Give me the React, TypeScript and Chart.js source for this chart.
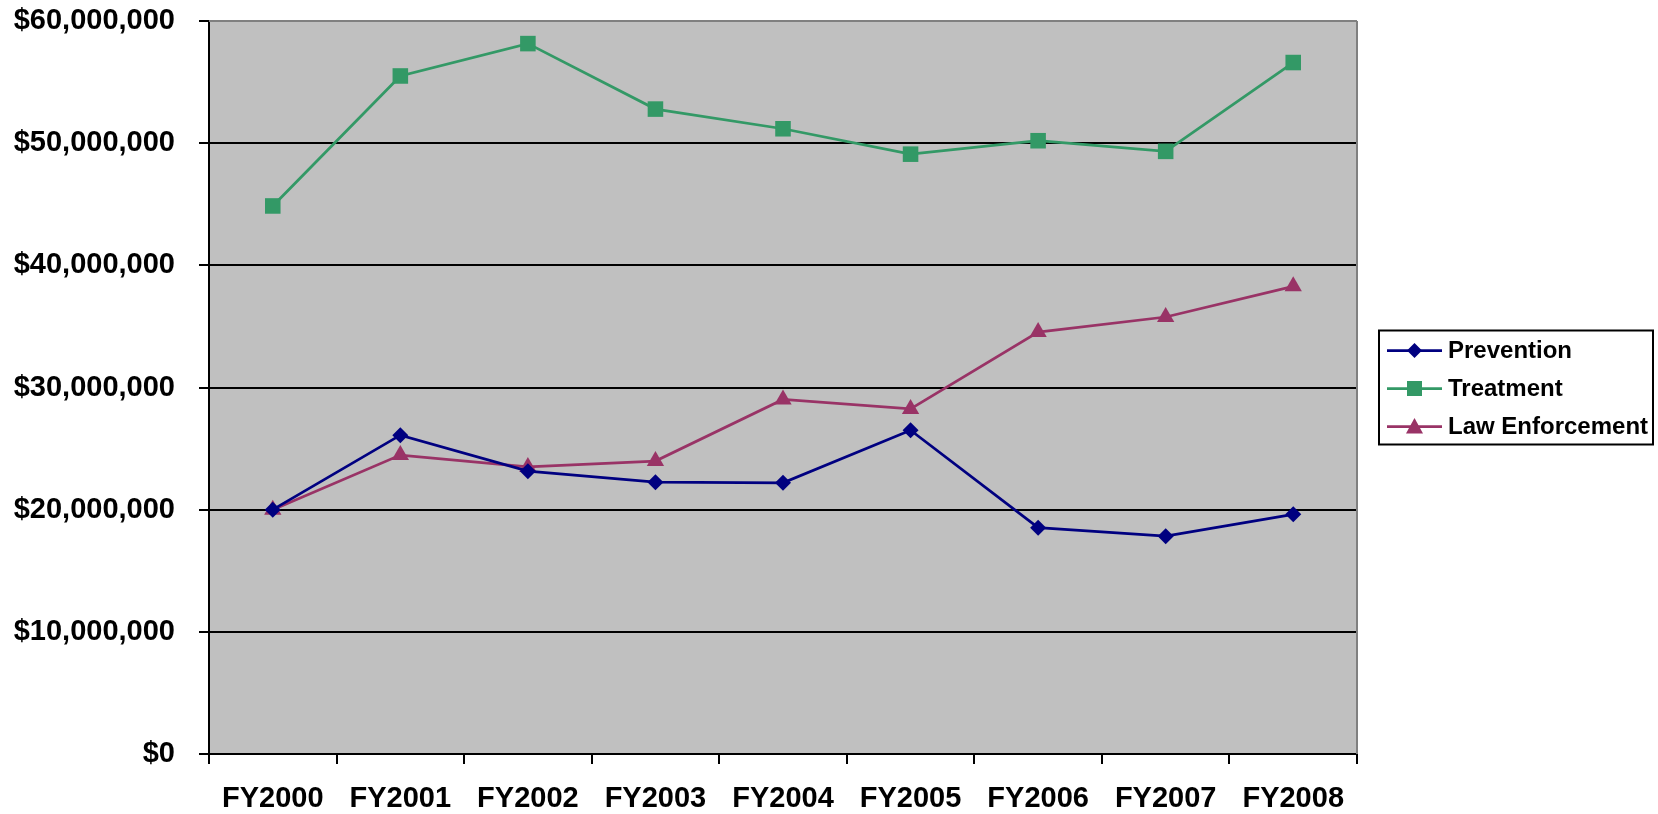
import React, { useEffect, useRef } from "react";
import { Chart, registerables } from "chart.js";

Chart.register(...registerables);

const categories = ["FY2000", "FY2001", "FY2002", "FY2003", "FY2004", "FY2005", "FY2006", "FY2007", "FY2008"];
const prevention = [20000000, 26100000, 23150000, 22250000, 22200000, 26500000, 18530000, 17830000, 19620000];
const treatment = [44860000, 55500000, 58150000, 52790000, 51180000, 49100000, 50200000, 49330000, 56600000];
const lawEnforcement = [20000000, 24470000, 23500000, 23980000, 29020000, 28250000, 34540000, 35770000, 38280000];
const seriesNames = ["Prevention", "Treatment", "Law Enforcement"];
const yTicksMax = 60000000;
const yStep = 10000000;

const FONT = '"Liberation Sans", Arial, Helvetica, sans-serif';

function drawMarker(ctx: CanvasRenderingContext2D, style: string, x: number, y: number, color: string) {
  ctx.fillStyle = color;
  ctx.beginPath();
  if (style === "rectRot") {
    const r = 7.5;
    ctx.moveTo(x, y - r);
    ctx.lineTo(x + r, y);
    ctx.lineTo(x, y + r);
    ctx.lineTo(x - r, y);
    ctx.closePath();
  } else if (style === "rect") {
    const s = 7.5;
    ctx.rect(x - s, y - s, 2 * s, 2 * s);
  } else {
    ctx.moveTo(x, y - 8.5);
    ctx.lineTo(x + 8.5, y + 7);
    ctx.lineTo(x - 8.5, y + 7);
    ctx.closePath();
  }
  ctx.fill();
}

const plotBgPlugin = {
  id: "plotBg",
  beforeDraw(chart: any) {
    const { ctx, chartArea } = chart;
    ctx.save();
    ctx.fillStyle = "#C0C0C0";
    ctx.fillRect(chartArea.left, chartArea.top, chartArea.right - chartArea.left, chartArea.bottom - chartArea.top);
    ctx.restore();
  },
  beforeDatasetsDraw(chart: any) {
    const { ctx, chartArea } = chart;
    ctx.save();
    ctx.strokeStyle = "#808080";
    ctx.lineWidth = 2;
    ctx.beginPath();
    ctx.moveTo(chartArea.left, chartArea.top);
    ctx.lineTo(chartArea.right, chartArea.top);
    ctx.moveTo(chartArea.right, chartArea.top);
    ctx.lineTo(chartArea.right, chartArea.bottom);
    ctx.stroke();
    ctx.restore();
  },
};

const boxLegendPlugin = {
  id: "boxLegend",
  afterDraw(chart: any) {
    const { ctx, chartArea } = chart;
    const left = chartArea.right + 22;
    const cy = (chartArea.top + chartArea.bottom) / 2;
    const w = 274;
    const h = 114;
    ctx.save();
    ctx.fillStyle = "#FFFFFF";
    ctx.fillRect(left, cy - h / 2, w, h);
    ctx.strokeStyle = "#000000";
    ctx.lineWidth = 2;
    ctx.strokeRect(left, cy - h / 2, w, h);
    chart.data.datasets.forEach((ds: any, i: number) => {
      const y = cy - 37 + i * 38;
      ctx.strokeStyle = ds.borderColor;
      ctx.lineWidth = 2.75;
      ctx.beginPath();
      ctx.moveTo(left + 8, y);
      ctx.lineTo(left + 63, y);
      ctx.stroke();
      drawMarker(ctx, ds.pointStyle, left + 35.5, y, ds.borderColor);
      ctx.fillStyle = "#000000";
      ctx.font = `bold 24px ${FONT}`;
      ctx.textAlign = "left";
      ctx.textBaseline = "middle";
      ctx.fillText(ds.label, left + 69, y + 1);
    });
    ctx.restore();
  },
};

export default function App() {
  const canvasRef = useRef<HTMLCanvasElement | null>(null);

  useEffect(() => {
    document.body.style.margin = "0";
    const canvas = canvasRef.current;
    if (!canvas) return;
    const chart = new Chart(canvas, {
      type: "line",
      data: {
        labels: categories,
        datasets: [
          {
            label: seriesNames[0],
            data: prevention,
            borderColor: "#000080",
            backgroundColor: "#000080",
            pointStyle: "rectRot",
            pointRadius: 8,
            pointBorderWidth: 0,
            borderWidth: 2.75,
            tension: 0,
          },
          {
            label: seriesNames[1],
            data: treatment,
            borderColor: "#339966",
            backgroundColor: "#339966",
            pointStyle: "rect",
            pointRadius: 11,
            pointBorderWidth: 0,
            borderWidth: 2.75,
            tension: 0,
          },
          {
            label: seriesNames[2],
            data: lawEnforcement,
            borderColor: "#993366",
            backgroundColor: "#993366",
            pointStyle: "triangle",
            pointRadius: 10,
            pointBorderWidth: 0,
            borderWidth: 2.75,
            tension: 0,
          },
        ],
      },
      options: {
        responsive: false,
        animation: false,
        events: [],
        layout: { padding: { top: 21, right: 301, left: 0, bottom: 0 } },
        plugins: {
          legend: { display: false },
          tooltip: { enabled: false },
          title: { display: false },
        },
        scales: {
          x: {
            type: "category",
            offset: true,
            grid: {
              offset: true,
              drawOnChartArea: false,
              drawTicks: true,
              tickLength: 10,
              color: "#000000",
              lineWidth: 2,
            },
            border: { display: true, color: "#000000", width: 2 },
            ticks: {
              color: "#000000",
              font: { family: FONT, size: 29, weight: "bold" },
              padding: 18,
              maxRotation: 0,
              autoSkip: false,
            },
            afterFit(scale: any) {
              scale.height = 60;
            },
          },
          y: {
            min: 0,
            max: yTicksMax,
            grid: {
              color: "#000000",
              lineWidth: 2,
              drawTicks: true,
              tickLength: 10,
            },
            border: { display: true, color: "#000000", width: 2 },
            ticks: {
              stepSize: yStep,
              color: "#000000",
              font: { family: FONT, size: 29, weight: "bold" },
              padding: 24,
              callback: (v: any) => "$" + Number(v).toLocaleString("en-US"),
            },
            afterFit(scale: any) {
              scale.width = 209;
              scale.paddingTop = 0;
              scale.paddingBottom = 0;
            },
          },
        },
      },
      plugins: [plotBgPlugin, boxLegendPlugin],
    } as any);
    return () => chart.destroy();
  }, []);

  return (
    <div style={{ width: 1658, height: 814, background: "#FFFFFF" }}>
      <canvas ref={canvasRef} width={1658} height={814} style={{ display: "block" }} />
    </div>
  );
}
